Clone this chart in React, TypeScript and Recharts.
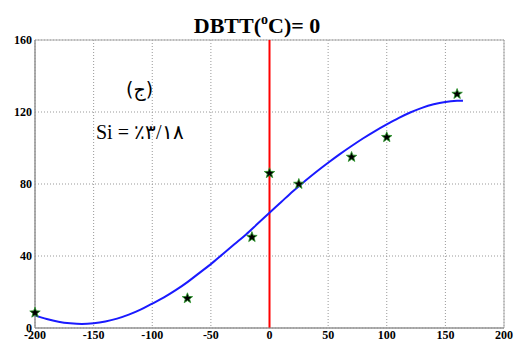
import {
  ComposedChart,
  Line,
  Scatter,
  XAxis,
  YAxis,
  CartesianGrid,
  ReferenceLine,
  ReferenceArea,
} from "recharts";

// measured points (stars)
const starTemp = [-200, -70, -15, 0, 25, 70, 100, 160];
const starEnergy = [8.5, 16.5, 50.5, 86, 80, 95, 106, 130];

// fitted curve
const fitTemp = [
  -200, -190, -180, -170, -160, -150, -140, -130, -120, -110, -100, -90, -80, -70, -60, -50, -40,
  -30, -20, -10, 0, 10, 20, 30, 40, 50, 60, 70, 80, 90, 100, 110, 120, 130, 140, 150, 160, 165,
];
const fitEnergy = [
  7, 5, 3.5, 2.6, 2.2, 2.6, 3.6, 5.2, 7.4, 10.2, 13.6, 17, 21, 25.5, 30.5, 35.5, 41, 46.5, 52,
  58, 64, 70, 76, 81.5, 86.8, 91.8, 96.6, 101.1, 105.4, 109.4, 113.1, 116.6, 119.7, 122.3, 124.3,
  125.6, 126.2, 126.3,
];

const xTicks = [-200, -150, -100, -50, 0, 50, 100, 150, 200];
const yTicks = [0, 40, 80, 120, 160];

const starData = starTemp.map((t, i) => ({ t, e: starEnergy[i] }));
const fitData = fitTemp.map((t, i) => ({ t, e: fitEnergy[i] }));

const tickFont = { fill: "#000", fontSize: 12, fontWeight: 700, fontFamily: "Liberation Serif" };

function Star(props: any) {
  const { cx, cy } = props;
  if (cx == null || cy == null) return null;
  const pts: string[] = [];
  for (let k = 0; k < 10; k++) {
    const r = k % 2 === 0 ? 5.5 : 2.3;
    const a = -Math.PI / 2 + (k * Math.PI) / 5;
    pts.push(`${cx + r * Math.cos(a)},${cy + r * Math.sin(a)}`);
  }
  return <polygon points={pts.join(" ")} fill="#000" stroke="#2a9a2a" strokeWidth={0.8} />;
}

export default function App() {
  return (
    <div style={{ position: "absolute", left: 0, top: 0, width: 514, height: 341, background: "#fff" }}>
      <ComposedChart
        width={514}
        height={341}
        data={fitData}
        margin={{ top: 40, right: 10, bottom: 0, left: 0 }}
      >
        <CartesianGrid stroke="#999" strokeDasharray="1 2" />
        <XAxis
          dataKey="t"
          type="number"
          domain={[-200, 200]}
          ticks={xTicks}
          height={13}
          tickSize={0}
          tickMargin={2}
          tick={tickFont}
          axisLine={{ stroke: "#888" }}
          interval={0}
        />
        <YAxis
          type="number"
          domain={[0, 160]}
          ticks={yTicks}
          width={35}
          tickSize={0}
          tickMargin={3}
          tick={tickFont}
          axisLine={{ stroke: "#888" }}
          interval={0}
        />
        <ReferenceArea x1={-200} x2={200} y1={0} y2={160} fill="none" stroke="#aaa" />
        <ReferenceLine x={0} stroke="#ff0000" strokeWidth={2} />
        <Line
          data={fitData}
          dataKey="e"
          type="monotone"
          stroke="#1a1aff"
          strokeWidth={2}
          dot={false}
          isAnimationActive={false}
        />
        <Scatter data={starData} dataKey="e" shape={<Star />} isAnimationActive={false} />
      </ComposedChart>
      <div
        style={{
          position: "absolute",
          left: 0,
          width: 514,
          top: 7,
          textAlign: "center",
          fontFamily: "Liberation Serif",
          fontWeight: 700,
          fontSize: 22,
          lineHeight: "26px",
          color: "#000",
        }}
      >
        DBTT(<sup style={{ fontSize: 14, verticalAlign: "9px" }}>o</sup>C)= 0
      </div>
      <div
        style={{
          position: "absolute",
          left: 126,
          top: 78,
          fontFamily: "DejaVu Sans",
          fontSize: 19,
          color: "#000",
        }}
      >
        (ج)
      </div>
      <div
        style={{
          position: "absolute",
          left: 96,
          top: 120,
          fontFamily: "Liberation Serif",
          fontSize: 20,
          color: "#000",
          direction: "ltr",
        }}
      >
        Si = ٪۳/۱۸
      </div>
    </div>
  );
}
